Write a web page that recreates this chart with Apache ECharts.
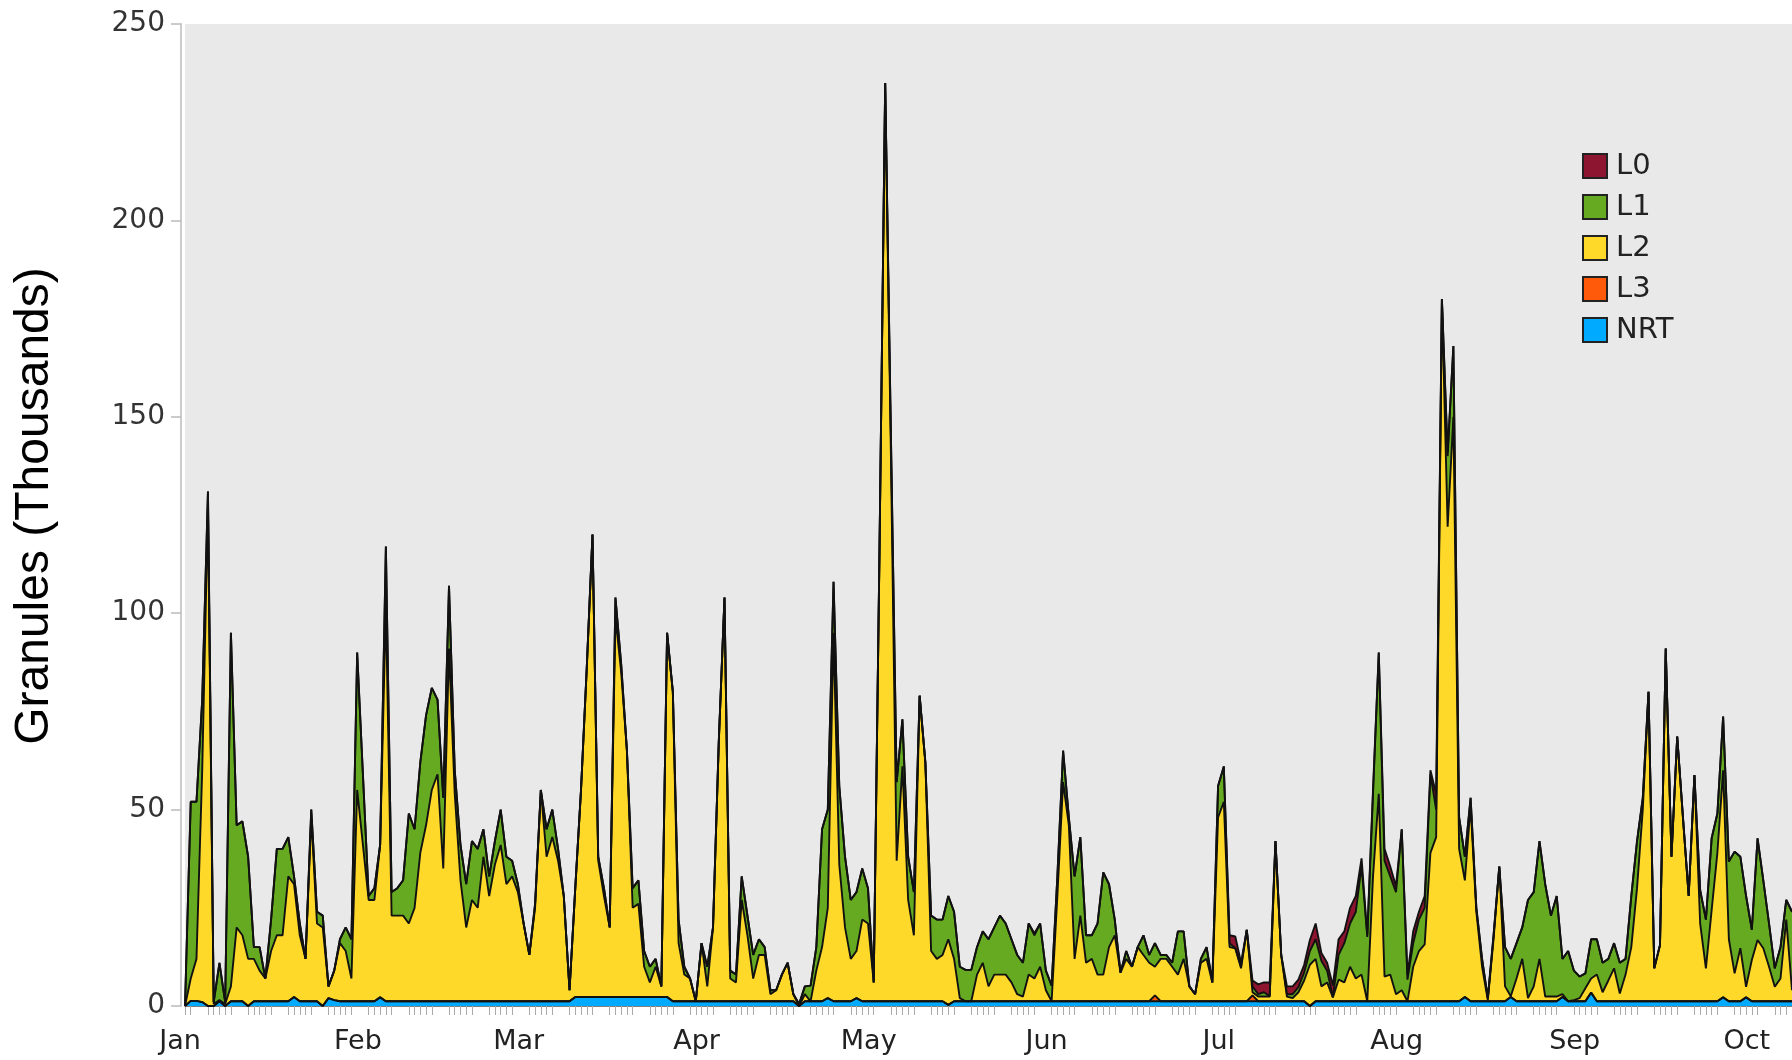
<!DOCTYPE html>
<html>
<head>
<meta charset="utf-8">
<title>Granules</title>
<script src="https://cdn.jsdelivr.net/npm/echarts@6.0.0/dist/echarts.min.js"></script>
<style>
  html, body { margin: 0; padding: 0; background: #fff; }
  #granules_chart { width: 1792px; height: 1060px; }
</style>
</head>
<body>
<div id="granules_chart"></div>
<script>
// daily granule counts (thousands), Jan 1 .. Oct 8
var startDate = '2015-01-01';
var dayCount = 281;
var monthNames = ['Jan', 'Feb', 'Mar', 'Apr', 'May', 'Jun', 'Jul', 'Aug', 'Sep', 'Oct', 'Nov', 'Dec'];
var yTicks = [0, 250, 50];   // min, max, step

var nrt = [
  0,1.3,1.3,1,0,0,1.2,0,1.2,1.2,1.2,0,1.2,1.2,1.2,1.2,1.2,1.2,1.2,2.3,
  1.2,1.2,1.2,1.2,0,2,1.5,1.2,1.2,1.2,1.2,1.2,1.2,1.2,2.2,1.2,1.2,1.2,1.2,1.2,
  1.2,1.2,1.2,1.2,1.2,1.2,1.2,1.2,1.2,1.2,1.2,1.2,1.2,1.2,1.2,1.2,1.2,1.2,1.2,1.2,
  1.2,1.2,1.2,1.2,1.2,1.2,1.2,1.2,2.3,2.3,2.3,2.3,2.3,2.3,2.3,2.3,2.3,2.3,2.3,2.3,
  2.3,2.3,2.3,2.3,2.3,1.2,1.2,1.2,1.2,1.2,1.2,1.2,1.2,1.2,1.2,1.2,1.2,1.2,1.2,1.2,
  1.2,1.2,1.2,1.2,1.2,1.2,1.2,0,1.2,1.2,1.2,1.2,2,1.2,1.2,1.2,1.2,2,1.2,1.2,
  1.2,1.2,1.2,1.2,1.2,1.2,1.2,1.2,1.2,1.2,1.2,1.2,1.2,0.3,1.2,1.2,1.2,1.2,1.2,1.2,
  1.2,1.2,1.2,1.2,1.2,1.2,1.2,1.2,1.2,1.2,1.2,1.2,1.2,1.2,1.2,1.2,1.2,1.2,1.2,1.2,
  1.2,1.2,1.2,1.2,1.2,1.2,1.2,1.2,1.2,1.2,1.2,1.2,1.2,1.2,1.2,1.2,1.2,1.2,1.2,1.2,
  1.2,1.2,1.2,1.2,1.2,1.2,1.2,1.2,1.2,1.2,1.2,1.2,1.2,1.2,1.2,1.2,0,1.2,1.2,1.2,
  1.2,1.2,1.2,1.2,1.2,1.2,1.2,1.2,1.2,1.2,1.2,1.2,1.2,1.2,1.2,1.2,1.2,1.2,1.2,1.2,
  1.2,1.2,1.2,2.3,1.2,1.2,1.2,1.2,1.2,1.2,1.2,2.3,1.2,1.2,1.2,1.2,1.2,1.2,1.2,1.2,
  2.3,1.2,1.2,1.2,1.2,3.4,1.2,1.2,1.2,1.2,1.2,1.2,1.2,1.2,1.2,1.2,1.2,1.2,1.2,1.2,
  1.2,1.2,1.2,1.2,1.2,1.2,1.2,1.2,2.2,1.2,1.2,1.2,2.2,1.2,1.2,1.2,1.2,1.2,1.2,1.2,1.2
];

var l3 = [
  0,0,0,0,0,0,0,0,0,0,0,0,0,0,0,0,0,0,0,0,
  0,0,0,0,0,0,0,0,0,0,0,0,0,0,0,0,0,0,0,0,
  0,0,0,0,0,0,0,0,0,0,0,0,0,0,0,0,0,0,0,0,
  0,0,0,0,0,0,0,0,0,0,0,0,0,0,0,0,0,0,0,0,
  0,0,0,0,0,0,0,0,0,0,0,0,0,0,0,0,0,0,0,0,
  0,0,0,0,0,0,0,0,0,0,0,0,0,0,0,0,0,0,0,0,
  0,0,0,0,0,0,0,0,0,0,0,0,0,0,0,0,0,0,0,0,
  0,0,0,0,0,0,0,0,0,0,0,0,0,0,0,0,0,0,0,0,
  0,0,0,0,0,0,0,0,0,1.5,0,0,0,0,0,0,0,0,0,0,
  0,0,0,0,0,0,1.5,0,0,0,0,0,0,0,0,0,0,0,0,0,
  0,0,0,0,0,0,0,0,0,0,0,0,0,0,0,0,0,0,0,0,
  0,0,0,0,0,0,0,0,0,0,0,0,0,0,0,0,0,0,0,0,
  0,0,0,0,0,0,0,0,0,0,0,0,0,0,0,0,0,0,0,0,
  0,0,0,0,0,0,0,0,0,0,0,0,0,0,0,0,0,0,0,0,0
];

var l2 = [
  0,5.7,10.7,59,127,0.5,0.3,0.5,3.8,18.8,16.8,12,10.8,7.8,5.8,12.8,16.8,16.8,31.8,28.7,
  16.8,10.8,46.8,19.8,20,3,7.5,14.8,12.8,5.8,53.8,39.8,25.8,25.8,38.8,100.8,21.8,21.8,21.8,19.8,
  23.8,37.8,44.8,53.8,57.8,33.8,89.8,52.8,30.8,18.8,25.8,23.8,36.8,26.8,34.8,39.8,29.8,31.8,27.8,19.8,
  11.8,23.8,53.8,36.8,41.8,35.8,26.8,2.8,27.7,52.7,83.7,117.7,34.7,25.7,17.7,96.7,82.7,62.7,22.7,23.7,
  7.7,3.7,7.7,2.7,92.7,78.8,14.8,6.8,5.8,0,14.8,3.8,18.8,65.8,102.8,5.8,4.8,25.8,16.8,5.8,
  11.8,11.8,1.8,2.8,6.8,9.8,1.8,0,1.8,0,7.8,13.8,23,93.8,34.8,18.8,10.8,12,20.8,19.8,
  4.8,113.8,233.8,138.8,35.8,59.8,25.8,16.8,77.8,60.8,12.8,10.8,11.8,16.7,10.8,0.8,0,0,6.8,9.8,
  3.8,6.8,6.8,6.8,4.8,1.8,1.2,6.8,5.8,8.8,2.8,0,26.8,55.8,44.8,10.8,21.8,9.8,10.8,6.8,
  6.8,13.8,16.8,7.3,10.8,8.8,13.8,11.8,9.8,7.3,10.8,10.8,8.8,6.8,10.8,3.8,1.8,9.8,10.8,4.8,
  46.8,50.8,13.8,13.5,8.4,18.2,0.8,1.2,1.2,1.2,40.8,11.8,1.2,0.8,2.3,5.3,10.5,10.8,3.8,4.8,
  1,5.5,4.8,8.8,5.8,6.8,0,31.8,52.8,6.3,6.8,1.8,2.8,0,8.8,12.8,14.5,37.8,41.8,178.8,
  120.8,148.8,38.8,29.7,49.8,22.8,8.8,0.3,15.8,34.3,3.8,0.2,5.8,10.8,0.8,3.8,10.8,1.2,1.2,1.2,
  0.7,0,0.3,0.8,3.3,3.6,6.8,2.3,5.3,8.4,2,6.8,13.8,28.8,48.8,78.8,8.4,14.3,89.8,36.8,
  67.4,46.8,26.8,57.6,19.8,8.4,23.2,37.8,57.8,15.8,7.1,13.5,2.7,10.5,15.6,13.5,8.8,3.7,5.8,20.8,2.8
];

var l1 = [
  0,45,40,18,4,0.5,9.5,0.5,90,26,29,26,3,6,0,8,22,22,10,2,
  3,0,2,3,3,0,0,1,6,10,35,18,1,3,0,15,6,7,9,28,
  20,23,28,26,19,18,16,6,9,11,15,15,7,5,6,9,7,4,2,0,
  0,1,0,7,7,3,0,0,0,0,0,0,1,2,0,5,2,0,5,6,
  4,4,2,0,0,0,6,2,0,0,0,5,0,0,0,2,2,6,5,6,
  4,2,1,0,0,0,0,0.5,2,4,6,30,25,13,20,18,15,15,13,9,
  0,0,0,5,20,12,11,11,0,0,9,10,9,11,12,8,8,8,7,8,
  12,12,15,13,11,10,8.6,13,11,11,5,4,5,8,2,21,20,7,6,13,
  26,16,4,0,2,0,0,5,2,6,1,1,1,11,7,0,0,1,3,0,
  8,9,1,0,0.4,0,1.5,0.6,1.1,0.1,0,0,0.6,1,1.3,2,3.5,5,6.5,3,
  0,6.3,10,11,17,27.6,16.4,21,36,29.5,25,26,41,5.5,6,8,9.3,20,7,0,
  18,18,8,6,2,1,2,0.5,1,0,10,9.5,9,8,25,24,30,28.6,20.6,25.6,
  9,12.8,7.5,5.5,3.8,10,9,7.5,5.5,6.4,7.8,4,13,12,3,0,0,0,0,0,
  0,0,0,0,8.5,12.4,18.3,10,13.7,19.8,31,23.3,23.1,7.7,25.9,17.3,11,4.7,8,5,20
];

var l0 = [
  0,0,0,0,0,0,0,0,0,0,0,0,0,0,0,0,0,0,0,0,
  0,0,0,0,0,0,0,0,0,0,0,0,0,0,0,0,0,0,0,0,
  0,0,0,0,0,0,0,0,0,0,0,0,0,0,0,0,0,0,0,0,
  0,0,0,0,0,0,0,0,0,0,0,0,0,0,0,0,0,0,0,0,
  0,0,0,0,0,0,0,0,0,0,0,0,0,0,0,0,0,0,0,0,
  0,0,0,0,0,0,0,0,0,0,0,0,0,0,0,0,0,0,0,0,
  0,0,0,0,0,0,0,0,0,0,0,0,0,0,0,0,0,0,0,0,
  0,0,0,0,0,0,0,0,0.5,0,0,0,0,0,0,0,0,0,0,0,
  0,0,0,0,0,0,0,0,0,0,0,0,0,0,0,0,0,0,0,0,
  0,0,2,3,1,0,1.5,2.5,2.5,3.5,0,0,2,2,1.9,2,2.8,4,2,2,
  3,4,3,4,4,2,0.5,1.3,0,3,2.5,1.5,0,1.3,3,2,3,1,4,0,
  1,0,0,0,0,0,0,0,0,0,0,0,0,0,0,0,0,0,0,0,
  0,0,0,0,0,0,0,0,0,0,0,0,0,0,0,0,0,0,0,0,
  0,0,0,0,0,0,0,0,0,0,0,0,0,0,0,0,0,0,0,0,0
];

(function(){
	var modelName = "granules";

	/** category labels: one per day **/
	var days = [];
	var t0 = Date.parse(startDate + 'T00:00:00Z');
	for (var i = 0; i < dayCount; i++) {
		days.push(new Date(t0 + i * 86400000).toISOString().slice(0, 10));
	}

	function isWeekday(idx) {
		var wd = new Date(t0 + idx * 86400000).getUTCDay();
		return wd !== 0 && wd !== 6;
	}

	function areaSeries(name, color, data) {
		return {
			name: name,
			type: 'line',
			stack: 'all',
			symbol: 'none',
			showSymbol: false,
			data: data,
			itemStyle: { color: color, borderColor: '#222', borderWidth: 1 },
			lineStyle: { color: '#111', width: 1.9 },
			areaStyle: { color: color, opacity: 1 }
		};
	}

	var chart = echarts.init(document.getElementById(modelName + '_chart'));

	var option = {
		animation: false,
		backgroundColor: '#fff',
		grid: {
			left: 185,
			right: 0,
			top: 24,
			bottom: 54,
			show: true,
			backgroundColor: '#e9e9e9',
			borderWidth: 0
		},
		legend: {
			orient: 'vertical',
			left: 1577,
			top: 146,
			icon: 'rect',
			itemWidth: 24,
			itemHeight: 24,
			itemGap: 11,
			data: ['L0', 'L1', 'L2', 'L3', 'NRT'],
			textStyle: {
				fontFamily: 'DejaVu Sans',
				fontSize: 29,
				lineHeight: 30,
				color: '#222',
				padding: [0, 0, 0, 4]
			}
		},
		xAxis: {
			type: 'category',
			data: days,
			boundaryGap: false,
			axisLine: { show: true, lineStyle: { color: '#555', width: 1.5 } },
			axisTick: {
				show: true,
				length: 9,
				interval: function(idx) { return isWeekday(idx); },
				lineStyle: { color: '#aaa', width: 1 }
			},
			axisLabel: {
				interval: function(idx, val) { return val.slice(8) === '01'; },
				formatter: function(val) { return monthNames[+val.slice(5, 7) - 1]; },
				fontFamily: 'DejaVu Sans',
				fontSize: 27,
				color: '#222',
				margin: 22,
				padding: [0, 10, 0, 0]
			},
			splitLine: { show: false }
		},
		yAxis: {
			type: 'value',
			min: yTicks[0],
			max: yTicks[1],
			interval: yTicks[2],
			offset: 4,
			name: 'Granules (Thousands)',
			nameLocation: 'middle',
			nameRotate: 90,
			nameGap: 122,
			nameTextStyle: {
				fontFamily: 'Liberation Sans',
				fontSize: 48,
				color: '#000',
				padding: [0, 0, 0, 18]
			},
			axisLine: { show: true, lineStyle: { color: '#ccc', width: 2 } },
			axisTick: { show: true, length: 10, lineStyle: { color: '#bbb', width: 1.5 } },
			axisLabel: {
				fontFamily: 'DejaVu Sans',
				fontSize: 28,
				color: '#333',
				margin: 16
			},
			splitLine: { show: false }
		},
		series: [
			areaSeries('NRT', '#00AAFF', nrt),
			areaSeries('L3', '#FF5A0A', l3),
			areaSeries('L2', '#FFD92A', l2),
			areaSeries('L1', '#66AA22', l1),
			areaSeries('L0', '#8E1530', l0)
		]
	};

	chart.setOption(option);
})();
</script>
</body>
</html>
